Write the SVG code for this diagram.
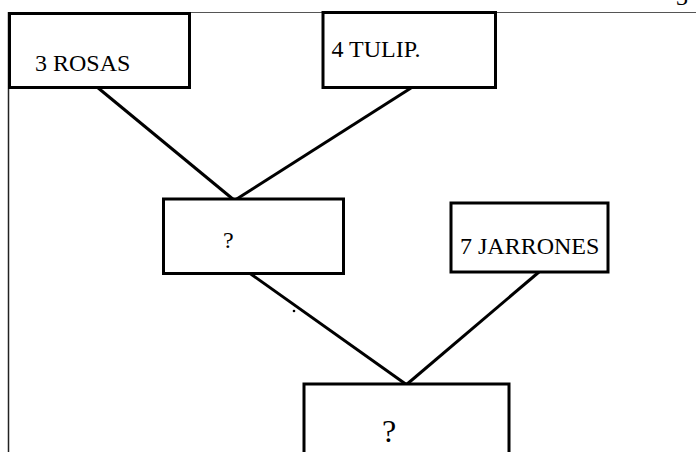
<svg xmlns="http://www.w3.org/2000/svg" width="696" height="452" viewBox="0 0 696 452">
<style>
.box{fill:#fff;stroke:#000;stroke-width:3}
.lbl{font-family:"Liberation Serif","Times New Roman",serif;font-size:24px;fill:#000}
.con{stroke:#000;stroke-width:3;fill:none}
</style>
<rect width="696" height="452" fill="#fff"/>
<text class="lbl" x="676" y="5">3</text>
<line x1="8" y1="12.5" x2="696" y2="12.5" stroke="#555" stroke-width="1"/>
<line x1="8.5" y1="12" x2="8.5" y2="452" stroke="#222" stroke-width="1.5"/>
<g id="connectors">
<line class="con" x1="97" y1="87" x2="234" y2="200"/>
<line class="con" x1="411" y1="88" x2="232" y2="202"/>
<line class="con" x1="248" y1="272" x2="407" y2="385"/>
<line class="con" x1="539" y1="272" x2="406" y2="385"/>
</g>
<circle cx="294" cy="311" r="1.3" fill="#000"/>
<g id="rosas">
<rect class="box" x="9.5" y="13.5" width="180" height="74"/>
<text class="lbl" x="35" y="71">3 ROSAS</text>
</g>
<g id="tulip">
<rect class="box" x="323" y="12.5" width="172.5" height="75"/>
<text class="lbl" x="331.5" y="57">4 TULIP.</text>
</g>
<g id="mid">
<rect class="box" x="163.5" y="199" width="180" height="74.5"/>
<text class="lbl" x="223" y="248">?</text>
</g>
<g id="jarrones">
<rect class="box" x="451" y="203" width="157" height="69"/>
<text class="lbl" x="460" y="254">7 JARRONES</text>
</g>
<g id="bottom">
<rect class="box" x="304" y="384" width="205" height="80"/>
<text class="lbl" x="382" y="442" style="font-size:32px">?</text>
</g>
</svg>
